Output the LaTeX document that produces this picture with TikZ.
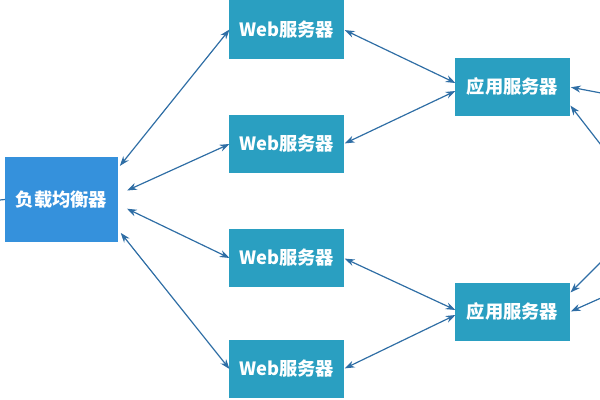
\documentclass[tikz,border=0pt]{standalone}
\usepackage{fontspec}
\newfontfamily\cjk{Noto Sans CJK SC}
\usepackage{tikz}
\usetikzlibrary{arrows.meta}

\definecolor{lbblue}{HTML}{3591DC}
\definecolor{srvteal}{HTML}{2A9FC1}
\definecolor{linkblue}{HTML}{2F6EA5}

\begin{document}
\begin{tikzpicture}[x=0.025cm, y=-0.025cm,
    box/.style={fill=srvteal, text=white, inner sep=0pt, outer sep=0pt,
        minimum width=2.85cm, minimum height=1.45cm,
        font=\cjk\bfseries\fontsize{13}{15}\selectfont},
    link/.style={draw=linkblue, line width=0.85pt, {Stealth[length=7pt,width=5pt]}-{Stealth[length=7pt,width=5pt]}},
    inlink/.style={draw=linkblue, line width=0.85pt, {Stealth[length=7pt,width=5pt]}-}]
                % Frame
                \clip (0,0) rectangle (600,400);
                
                % Load balancer
                \node[box, fill=lbblue, minimum width=2.83cm, minimum height=2.13cm] (lb) at (61.5,199.5) {负载均衡器};
                
                % Web servers
                \node[box] (web1) at (286.5,29.5) {Web服务器};
                \node[box] (web2) at (286.5,144) {Web服务器};
                \node[box] (web3) at (286.5,258) {Web服务器};
                \node[box] (web4) at (286.5,369) {Web服务器};
                
                % Application servers
                \node[box] (app1) at (512.5,87) {应用服务器};
                \node[box] (app2) at (512.5,312) {应用服务器};
                
                % Free ends at the picture edges
                \coordinate (in) at (0,200);
                \coordinate (r1) at (601,93);
                \coordinate (r2) at (601,145);
                \coordinate (r3) at (601,262);
                \coordinate (r4) at (601,298);
                
                % Load balancer to web servers
                \draw[linkblue, line width=0.85pt] (in) -- (lb.west);
                \draw[link, shorten <=2pt] (lb.29) -- (web1.west);
                \draw[link, shorten <=7pt] (lb.5) -- (web2.west);
                \draw[link, shorten <=7pt] (lb.-5) -- (web3.west);
                \draw[link, shorten <=3pt] (lb.-28) -- (web4.west);
                
                % Web servers to application servers
                \draw[link, shorten <=1pt] (web1.east) -- (app1.176);
                \draw[link, shorten <=1pt] (web2.east) -- (app1.184);
                \draw[link, shorten <=1pt] (web3.east) -- (app2.178);
                \draw[link, shorten <=1pt] (web4.east) -- (app2.183);
                
                % Application servers to the right
                \draw[inlink, shorten <=1pt] (app1.east) -- (r1);
                \draw[inlink, shorten <=1pt] (app1.-17) -- (r2);
                \draw[inlink, shorten <=1pt] (app2.18) -- (r3);
                \draw[inlink, shorten <=1pt] (app2.east) -- (r4);
            \end{tikzpicture}
\end{document}
